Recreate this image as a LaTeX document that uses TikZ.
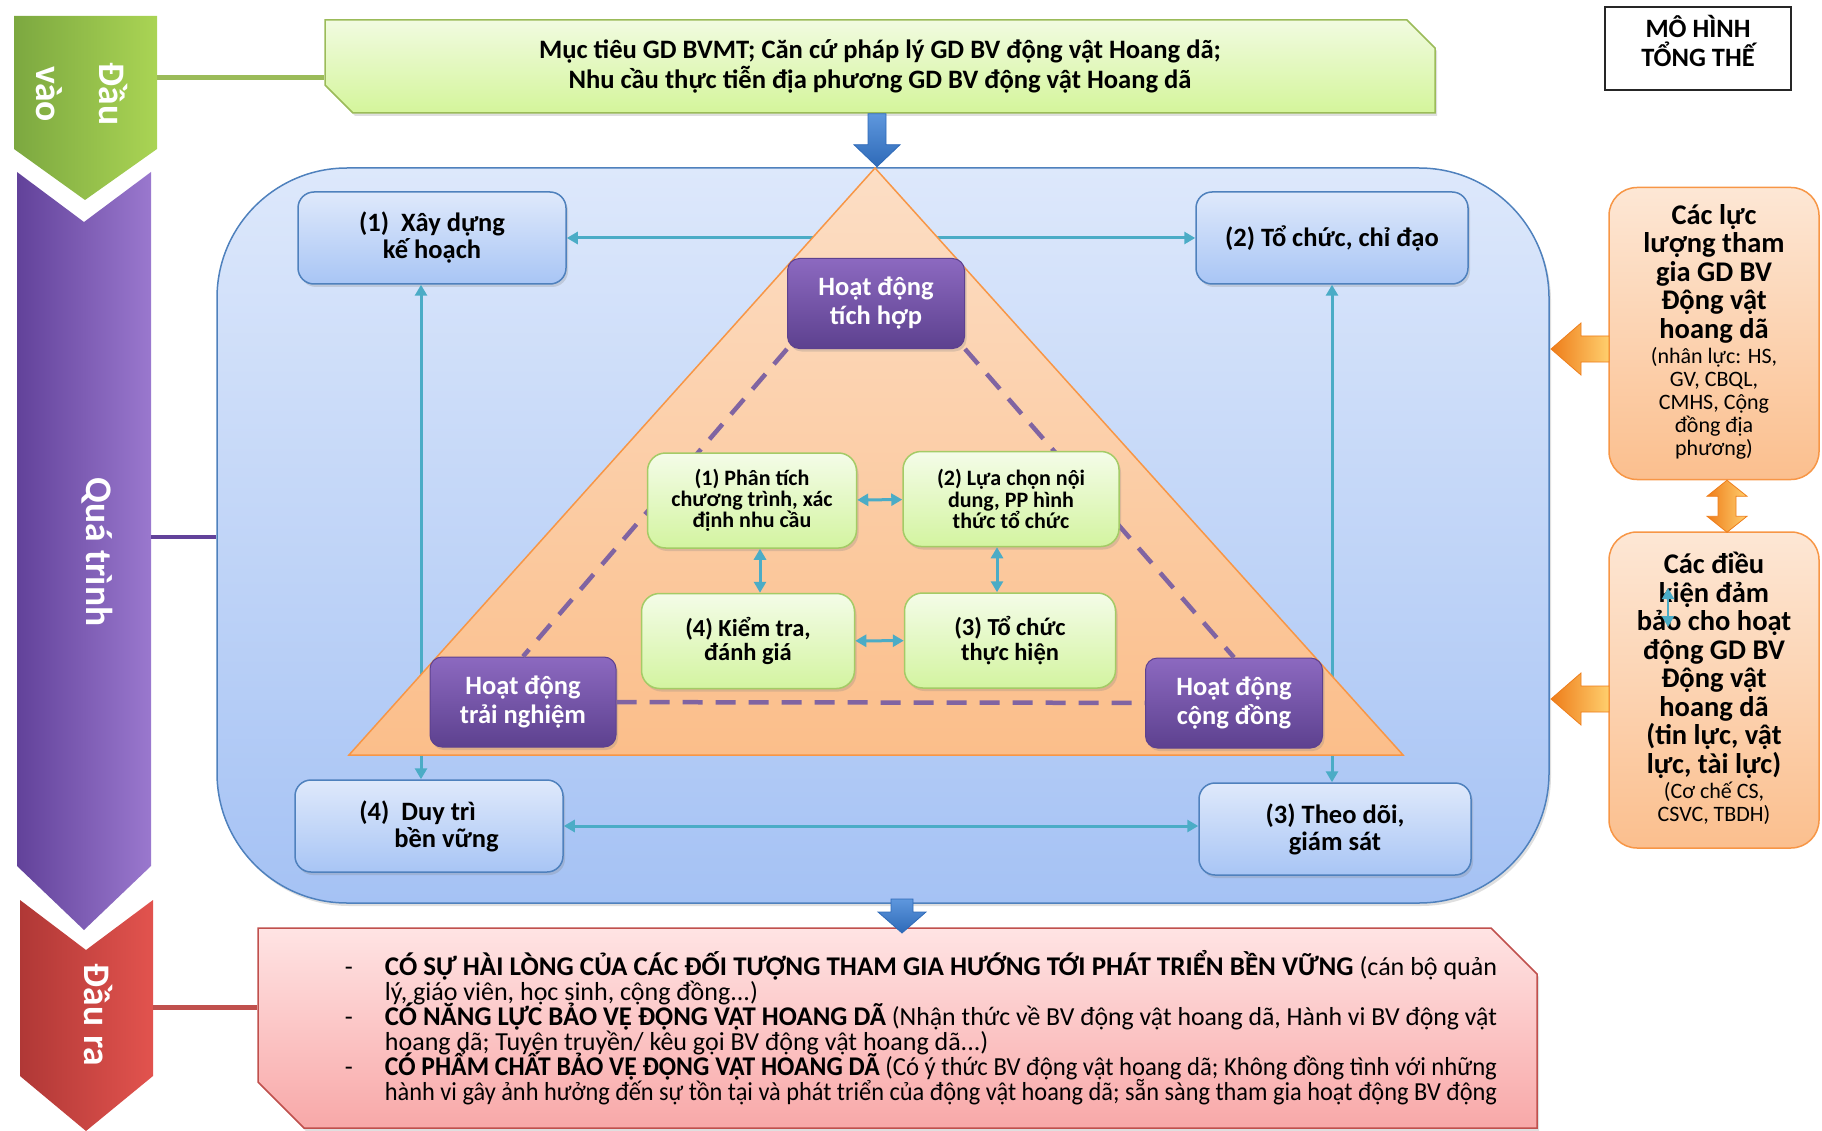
\documentclass[tikz,border=0pt]{standalone}
\usepackage{fontspec}
\usepackage{graphicx}
\setmainfont{Carlito}
\usetikzlibrary{calc,positioning,arrows.meta,shapes.misc,backgrounds,shadows}

\definecolor{tealline}{HTML}{4BACC6}
\definecolor{boxblue}{HTML}{4F81BD}
\definecolor{boxbluetop}{HTML}{DFE9FB}
\definecolor{boxbluebot}{HTML}{A8C5F5}
\definecolor{bigbluetop}{HTML}{DDE8FB}
\definecolor{bigbluebot}{HTML}{A5C2F4}
\definecolor{stepgreen}{HTML}{A4CB66}
\definecolor{stepgreentop}{HTML}{F4FCE8}
\definecolor{stepgreenbot}{HTML}{D3F4A0}
\definecolor{kindtop}{HTML}{8C69C0}
\definecolor{kindbot}{HTML}{5D418F}
\definecolor{kindline}{HTML}{8064A2}
\definecolor{pyrline}{HTML}{F79646}
\definecolor{pyrtop}{HTML}{FCDEC5}
\definecolor{pyrbot}{HTML}{FBBE8A}
\definecolor{goalline}{HTML}{9BBB59}
\definecolor{goaltop}{HTML}{F1FBE0}
\definecolor{goalbot}{HTML}{D4F59B}
\definecolor{outline}{HTML}{C0504D}
\definecolor{outtop}{HTML}{FFE4E4}
\definecolor{outbot}{HTML}{F8A8A8}
\definecolor{restop}{HTML}{FDE7D5}
\definecolor{resbot}{HTML}{FBBF8E}
\definecolor{arrowblue}{HTML}{2E6AB8}
\definecolor{arrowbluelight}{HTML}{5E97DD}
\definecolor{arroworange}{HTML}{EE7D1A}
\definecolor{arroworangelight}{HTML}{FFCF6E}
\definecolor{chevgreenL}{HTML}{7CA840}
\definecolor{chevgreenR}{HTML}{AAD454}
\definecolor{chevpurpleL}{HTML}{62429A}
\definecolor{chevpurpleR}{HTML}{9A78CE}
\definecolor{chevredL}{HTML}{B03836}
\definecolor{chevredR}{HTML}{E2534E}

\begin{document}
\begin{tikzpicture}[x=1pt, y=-1pt, align=center, font=\bfseries,
    softshadow/.style={drop shadow={opacity=0.25, shadow xshift=2pt, shadow yshift=-3pt}},
    chevtext/.style={text=white, font=\fontsize{37.5}{63}\selectfont\bfseries},
    goalbox/.style={chamfered rectangle, chamfered rectangle corners={north east,south west},
        chamfered rectangle xsep=14pt, chamfered rectangle ysep=14pt,
        draw=goalline, line width=1.5pt, top color=goaltop, bottom color=goalbot,
        minimum width=1110pt, minimum height=93pt, softshadow,
        font=\fontsize{26.6}{30}\selectfont\bfseries},
    outbox/.style={chamfered rectangle, chamfered rectangle corners={north east,south west},
        chamfered rectangle xsep=26pt, chamfered rectangle ysep=20pt, inner ysep=0pt,
        draw=outline, line width=1.5pt, top color=outtop, bottom color=outbot,
        minimum width=1279pt, minimum height=200pt, softshadow,
        font={\fontsize{26}{25}\selectfont\mdseries\lineskiplimit=-40pt\lineskip=0pt}},
    processbox/.style={draw=boxblue, line width=1.5pt, rounded corners=130pt,
        top color=bigbluetop, bottom color=bigbluebot, minimum width=1332pt,
        minimum height=735pt, softshadow},
    cornerbox/.style={draw=boxblue, line width=1.5pt, rounded corners=16pt,
        top color=boxbluetop, bottom color=boxbluebot, minimum width=268pt,
        minimum height=92pt, softshadow, font=\fontsize{26.5}{27}\selectfont\bfseries},
    stepbox/.style={draw=stepgreen, line width=1.5pt, rounded corners=18pt,
        top color=stepgreentop, bottom color=stepgreenbot, minimum width=210pt,
        minimum height=95pt, softshadow},
    kind/.style={draw=kindbot, line width=1pt, rounded corners=12pt,
        top color=kindtop, bottom color=kindbot, text=white, minimum width=177pt,
        minimum height=90pt, softshadow, font=\fontsize{26.5}{29}\selectfont\bfseries},
    resbox/.style={draw=pyrline, line width=1.5pt, rounded corners=28pt,
        top color=restop, bottom color=resbot, minimum width=210pt,
        font=\fontsize{28.5}{28.5}\selectfont\bfseries},
    ring/.style={draw=tealline, line width=3pt,
        {Triangle[length=11pt,width=12pt]}-{Triangle[length=11pt,width=12pt]}},
    kindlink/.style={draw=kindline, line width=4.5pt, dash pattern=on 20pt off 13pt},
    bluearrow/.style={top color=arrowbluelight, bottom color=arrowblue, draw=arrowblue, line width=0.8pt},
    orangearrow/.style={left color=arroworange, right color=arroworangelight, draw=arroworange, line width=0.8pt},
    pyramid/.style={draw=pyrline, line width=1.5pt, top color=pyrtop, bottom color=pyrbot}]

    \useasboundingbox (0,0) rectangle (1822,1131);

    % left stages
    \path[left color=chevgreenL, right color=chevgreenR]
        (14,16) -- (157,16) -- (157,149) -- (85,200) -- (14,149) -- cycle;
    \node[chevtext, rotate=-90] (invao) at (82,94) {Đầu\\vào};
    \path[left color=chevpurpleL, right color=chevpurpleR]
        (17,172) -- (84,222) -- (151,172) -- (151,866) -- (84,930) -- (17,866) -- cycle;
    \node[chevtext, rotate=-90] (quatrinh) at (97,552) {Quá trình};
    \path[left color=chevredL, right color=chevredR]
        (20,900) -- (86,950) -- (153,900) -- (153,1076) -- (86,1131) -- (20,1076) -- cycle;
    \node[chevtext, rotate=-90] (daura) at (98,1015) {Đầu ra};

    \coordinate (invaoE) at (157,78);
    \coordinate (quatrinhE) at (151,537);
    \coordinate (dauraE) at (153,1007);

    % input
    \node[goalbox] (goal) at (880,66.5)
        {Mục tiêu GD BVMT; Căn cứ pháp lý GD BV động vật Hoang dã;\\
         Nhu cầu thực tiễn địa phương GD BV động vật Hoang dã};
    \draw[draw=goalline, line width=5pt] (invaoE) -- (goal.west |- invaoE);
    \path[bluearrow] (goal.south) ++(-12,0) -- ++(18,0) -- ++(0,31) -- ++(14,0)
        -- ++(-23,22) -- ++(-23,-22) -- ++(14,0) -- cycle;

    \node[draw=black!85, line width=2pt, minimum width=186pt, minimum height=83pt] (model) at (1698,48.5) {};
    \node[font=\fontsize{26.5}{29}\selectfont\bfseries] (modeltext) at (1698,41) {MÔ HÌNH\\TỔNG THẾ};

    % process
    \node[processbox] (process) at (883,535.5) {};
    \draw[draw=chevpurpleL, line width=4pt] (quatrinhE) -- (process.west |- quatrinhE);

    \node[cornerbox] (plan) at (432,238) {(1)\ \ Xây dựng\\kế hoạch};
    \node[cornerbox, minimum width=272pt] (lead) at (1332,238) {(2) Tổ chức, chỉ đạo};
    \node[cornerbox, align=left] (keep) at (429,826) {(4)\ \ Duy trì\\\hspace*{35pt}bền vững};
    \node[cornerbox, minimum width=272pt] (watch) at (1335,829) {(3) Theo dõi,\\giám sát};

    \draw[ring] (plan) -- (lead);
    \draw[ring] ([xshift=-11pt]plan.south) -- ([xshift=-8pt]keep.north);
    \draw[ring] (lead.south) -- (lead.south |- watch.north);
    \draw[ring] (keep.east) -- (keep.east -| watch.west);

    \path[pyramid] (875,168) coordinate (apex) -- (349,755) coordinate (baseL)
        -- (1403,755) coordinate (baseR) -- cycle;

    \node[kind] (integ) at (876,303.5) {Hoạt động\\tích hợp};
    \node[kind, minimum width=186pt] (exper) at (523,702) {Hoạt động\\trải nghiệm};
    \node[kind] (comm) at (1234,703) {Hoạt động\\cộng đồng};

    \draw[kindlink] (integ.south west) -- (exper.north);
    \draw[kindlink] (integ.south east) -- (comm.north);
    \draw[kindlink] (exper) -- (comm);

    \node[stepbox, minimum width=209pt, font=\fontsize{22}{21}\selectfont\bfseries] (analyse) at (752,500.5)
        {(1) Phân tích\\chương trình, xác\\định nhu cầu};
    \node[stepbox, minimum width=216pt, font=\fontsize{22}{21.5}\selectfont\bfseries] (choose) at (1011,499)
        {(2) Lựa chọn nội\\dung, PP hình\\thức tổ chức};
    \node[stepbox, minimum width=213pt, font=\fontsize{24.5}{24.5}\selectfont\bfseries] (check) at (748,641)
        {(4) Kiểm tra,\\đánh giá};
    \node[stepbox, minimum width=211pt, font=\fontsize{24.5}{24.5}\selectfont\bfseries] (run) at (1010,640.5)
        {(3) Tổ chức\\thực hiện};

    \draw[ring] (analyse) -- (choose);
    \draw[ring] ([xshift=8pt]analyse.south) -- ([xshift=8pt]analyse.south |- check.north);
    \draw[ring] ([xshift=-14pt]choose.south) -- ([xshift=-14pt]choose.south |- run.north);
    \draw[ring] (check) -- (run);

    % resources
    \node[resbox, minimum height=292pt] (forces) at (1714,333.5)
        {Các lực\\lượng tham\\gia GD BV\\Động vật\\hoang dã\\[-3pt]
         {\mdseries\fontsize{22}{23}\selectfont\begin{tabular}[t]{@{}c@{}}(nhân lực: HS,\\GV, CBQL,\\CMHS, Cộng\\đồng địa\\phương)\end{tabular}}};
    \node[resbox, minimum height=316pt] (means) at (1714,690)
        {Các điều\\kiện đảm\\bảo cho hoạt\\động GD BV\\Động vật\\hoang dã\\(tin lực, vật\\lực, tài lực)\\[-3pt]
         {\mdseries\fontsize{22}{22}\selectfont\begin{tabular}[t]{@{}c@{}}(Cơ chế CS,\\CSVC, TBDH)\end{tabular}}};

    \coordinate (forcesIn) at (1609,349);
    \coordinate (meansIn) at (1609,699);
    \path[orangearrow] (forcesIn) ++(0,-13) -- ++(-28,0) -- ++(0,-13) -- ++(-30,26)
        -- ++(30,26) -- ++(0,-13) -- ++(28,0) -- cycle;
    \path[orangearrow] (meansIn) ++(0,-13) -- ++(-28,0) -- ++(0,-13) -- ++(-30,26)
        -- ++(30,26) -- ++(0,-13) -- ++(28,0) -- cycle;
    \path[orangearrow] ([xshift=13pt]forces.south) -- ++(20,16) -- ++(-11,0) -- ++(0,20)
        -- ++(11,0) -- ++(-20,16) -- ++(-20,-16) -- ++(11,0) -- ++(0,-20) -- ++(-11,0) -- cycle;

    \coordinate (strayTop) at (1668,588);
    \coordinate (strayBot) at (1668,627);
    \draw[ring, line width=2pt] (strayTop) -- (strayBot);

    % output
    \node[outbox, align=left] (output) at (897.5,1028) {%
        \hspace*{47pt}\makebox[40pt][l]{-}\resizebox{1112pt}{\height}{{\fontsize{27}{25}\selectfont\bfseries CÓ SỰ HÀI LÒNG CỦA CÁC ĐỐI TƯỢNG THAM GIA HƯỚNG TỚI PHÁT TRIỂN BỀN VỮNG} (cán bộ quản}\\
        \hspace*{87pt}lý, giáo viên, học sinh, cộng đồng...)\\
        \hspace*{47pt}\makebox[40pt][l]{-}\resizebox{1112pt}{\height}{{\fontsize{27}{25}\selectfont\bfseries CÓ NĂNG LỰC BẢO VỆ ĐỘNG VẬT HOANG DÃ} (Nhận thức về BV động vật hoang dã, Hành vi BV động vật}\\
        \hspace*{87pt}hoang dã; Tuyên truyền/ kêu gọi BV động vật hoang dã...)\\
        \hspace*{47pt}\makebox[40pt][l]{-}\resizebox{1112pt}{\height}{{\fontsize{27}{25}\selectfont\bfseries CÓ PHẨM CHẤT BẢO VỆ ĐỘNG VẬT HOANG DÃ} (Có ý thức BV động vật hoang dã; Không đồng tình với những}\\
        \hspace*{87pt}\resizebox{1112pt}{\height}{hành vi gây ảnh hưởng đến sự tồn tại và phát triển của động vật hoang dã; sẵn sàng tham gia hoạt động BV động}};
    \draw[draw=outline, line width=5pt] (dauraE) -- (output.west |- dauraE);
    \coordinate (outflow) at (902,899);
    \path[bluearrow] (outflow) ++(-11,0) -- ++(22,0) -- ++(0,13) -- ++(13,0)
        -- ++(-24,21) -- ++(-24,-21) -- ++(13,0) -- cycle;

\end{tikzpicture}
\end{document}
